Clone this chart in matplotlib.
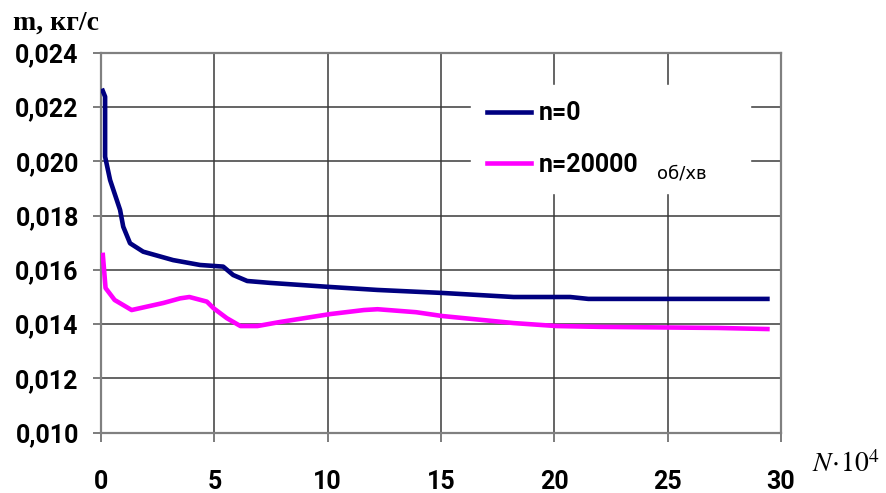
import matplotlib
matplotlib.use("Agg")
import matplotlib.pyplot as plt

# data
n0_x = [0.075, 0.18, 0.18, 0.40, 0.84, 0.98, 1.28, 1.86, 3.18, 4.37, 5.39, 5.83, 6.45,
        7.46, 10.1, 12.2, 15.05, 18.2, 20.7, 21.5, 29.4]
n0_y = [0.02260, 0.02238, 0.02017, 0.01931, 0.01821, 0.01759, 0.01698, 0.01667, 0.01636,
        0.01618, 0.01612, 0.01581, 0.01559, 0.01552, 0.01537, 0.01526, 0.01515, 0.01500,
        0.01500, 0.01493, 0.01493]

n20_x = [0.08, 0.2, 0.6, 1.35, 2.75, 3.49, 3.9, 4.67, 4.96, 5.55, 6.15, 6.9, 7.9, 10.1,
         11.6, 12.2, 13.9, 15.05, 18.2, 20.1, 22.0, 27.2, 29.4]
n20_y = [0.01655, 0.01533, 0.01489, 0.01452, 0.01478, 0.01495, 0.01500, 0.01483, 0.01459,
         0.01422, 0.01393, 0.01393, 0.01408, 0.01437, 0.01452, 0.01455, 0.01444, 0.01430,
         0.01404, 0.01393, 0.01390, 0.01386, 0.01382]

xticks = [0, 5, 10, 15, 20, 25, 30]
yticks = [0.010, 0.012, 0.014, 0.016, 0.018, 0.020, 0.022, 0.024]
ytick_labels = ["0,010", "0,012", "0,014", "0,016", "0,018", "0,020", "0,022", "0,024"]

fig = plt.figure(figsize=(8.87, 4.93), dpi=100)
ax = fig.add_axes([0.1139, 0.1223, 0.7666, 0.7707])

ax.plot(n0_x, n0_y, color="#000080", lw=3.3, label="n=0", solid_joinstyle="round", zorder=3)
ax.plot(n20_x, n20_y, color="#ff00ff", lw=3.3, label="n=20000", solid_joinstyle="round", zorder=3)

ax.set_xlim(0, 30)
ax.set_ylim(0.010, 0.024)
ax.set_xticks(xticks)
ax.set_xticklabels([str(t) for t in xticks])
ax.set_yticks(yticks)
ax.set_yticklabels(ytick_labels)

ax.grid(True, color="#3a3a3a", lw=1.1)
ax.set_axisbelow(True)
for s in ax.spines.values():
    s.set_color("#808080")
    s.set_linewidth(1.6)

ax.tick_params(axis="x", direction="out", length=6.5, width=1.2, color="#666666", pad=20)
ax.tick_params(axis="y", direction="out", length=6, width=1.2, color="#666666", pad=10)
for lab in ax.get_xticklabels() + ax.get_yticklabels():
    lab.set_fontfamily("Roboto")
    lab.set_fontweight("bold")
    lab.set_fontsize(18)

leg = ax.legend(loc="upper left", bbox_to_anchor=(0.544, 0.631, 0.41, 0.284), mode="expand",
                frameon=True, fancybox=False, edgecolor="white", facecolor="white", framealpha=1,
                handlelength=1.75, handletextpad=0.3, labelspacing=1.1, borderpad=0.65,
                borderaxespad=0, prop={"family": "Roboto", "weight": "bold", "size": 18})
leg.set_zorder(4)

ax.text(0.817, 0.683, "об/хв", transform=ax.transAxes, fontsize=13, family="DejaVu Sans",
        va="center", ha="left", zorder=5)

fig.text(0.015, 0.939, "m, кг/с", family="Liberation Serif", weight="bold", fontsize=20,
         va="baseline", ha="left")

plt.rcParams["mathtext.fontset"] = "stix"
fig.text(0.916, 0.043, r"$N\!\cdot\!10^4$", fontsize=20, va="baseline", ha="left")

fig.savefig("out.png", dpi=100)
